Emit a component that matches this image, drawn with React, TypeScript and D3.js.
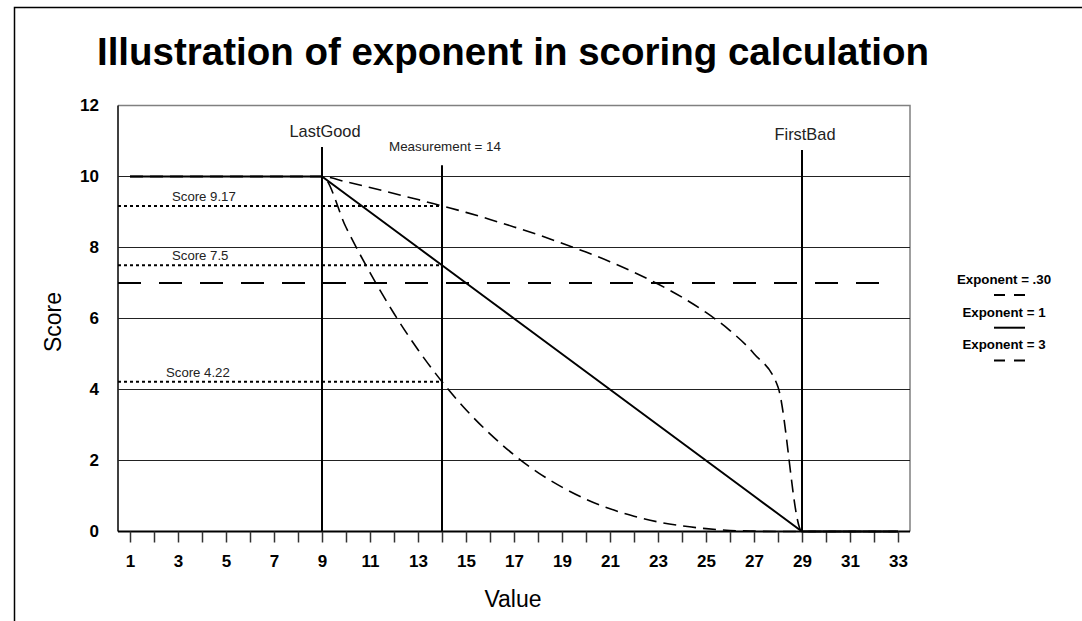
import React, { useEffect, useRef } from "react";
import * as d3 from "d3";

const WIDTH = 1082;
const HEIGHT = 621;
const FONT = "Arial, 'Liberation Sans', Helvetica, sans-serif";

// x categories (Value)
const values = [1, 2, 3, 4, 5, 6, 7, 8, 9, 10, 11, 12, 13, 14, 15, 16, 17, 18, 19, 20, 21, 22, 23, 24, 25, 26, 27, 28, 29, 30, 31, 32, 33];

// scores per value
const scoreExp030 = [10, 10, 10, 10, 10, 10, 10, 10, 10, 9.85, 9.69, 9.52, 9.35, 9.17, 8.99, 8.79, 8.58, 8.36, 8.12, 7.87, 7.6, 7.3, 6.97, 6.6, 6.17, 5.66, 5.01, 4.07, 0, 0, 0, 0, 0];
const scoreExp1 = [10, 10, 10, 10, 10, 10, 10, 10, 10, 9.5, 9, 8.5, 8, 7.5, 7, 6.5, 6, 5.5, 5, 4.5, 4, 3.5, 3, 2.5, 2, 1.5, 1, 0.5, 0, 0, 0, 0, 0];
const scoreExp3 = [10, 10, 10, 10, 10, 10, 10, 10, 10, 8.57, 7.29, 6.14, 5.12, 4.22, 3.43, 2.75, 2.16, 1.66, 1.25, 0.91, 0.64, 0.43, 0.27, 0.16, 0.08, 0.03, 0.01, 0, 0, 0, 0, 0, 0];

const yTicks = [0, 2, 4, 6, 8, 10, 12];
const gridLevels = [2, 4, 6, 8, 10];

// vertical markers
const markerLabels = ["LastGood", "Measurement = 14", "FirstBad"];
const markerValues = [9, 14, 29];
const markerTops = [10.83, 10.32, 10.75];

// measurement result lines
const measurement = 14;
const scoreLevels = [9.17, 7.5, 4.22];
const scoreLabels = ["Score 9.17", "Score 7.5", "Score 4.22"];

const thresholdScore = 7;

const legendLabels = ["Exponent = .30", "Exponent = 1", "Exponent = 3"];

export default function App() {
  const ref = useRef<HTMLDivElement>(null);

  useEffect(() => {
    const root = d3.select(ref.current);
    root.selectAll("*").remove();

    const svg = root
      .append("svg")
      .attr("width", WIDTH)
      .attr("height", HEIGHT)
      .style("position", "absolute")
      .style("left", 0)
      .style("top", 0)
      .style("background", "#fff")
      .style("font-family", FONT);

    const x = d3.scaleLinear().domain([0.5, 33.5]).range([118, 910]);
    const y = d3.scaleLinear().domain([0, 12]).range([531.5, 105.5]);

    // outer frame
    svg.append("path")
      .attr("d", `M14.5,${HEIGHT + 2}V7.5H${WIDTH + 2}`)
      .attr("fill", "none")
      .attr("stroke", "#000")
      .attr("stroke-width", 1.5);

    // title
    svg.append("text")
      .attr("x", 513)
      .attr("y", 65)
      .attr("text-anchor", "middle")
      .attr("font-size", 38.5)
      .attr("font-weight", "bold")
      .text("Illustration of exponent in scoring calculation");

    // plot box: top & right grey, left black
    svg.append("path")
      .attr("d", `M${x(0.5)},${y(12)}H${x(33.5)}V${y(0)}`)
      .attr("fill", "none")
      .attr("stroke", "#808080")
      .attr("stroke-width", 1.5);
    svg.append("line")
      .attr("x1", x(0.5)).attr("x2", x(0.5))
      .attr("y1", y(12)).attr("y2", y(0))
      .attr("stroke", "#000")
      .attr("stroke-width", 1.5);

    // horizontal gridlines
    svg.append("g")
      .selectAll("line")
      .data(gridLevels)
      .join("line")
      .attr("x1", x(0.5))
      .attr("x2", x(33.5))
      .attr("y1", (d) => y(d))
      .attr("y2", (d) => y(d))
      .attr("stroke", "#222")
      .attr("stroke-width", 1);

    // y axis labels
    const yAxis = svg.append("g")
      .attr("transform", `translate(${x(0.5)},0)`)
      .call(d3.axisLeft(y).tickValues(yTicks).tickSize(0).tickPadding(19).tickFormat(d3.format("d")));
    yAxis.select(".domain").remove();
    yAxis.selectAll("text")
      .attr("font-size", 17)
      .attr("font-weight", "bold")
      .attr("font-family", FONT)
      .attr("fill", "#000");

    // x axis
    const xAxis = svg.append("g")
      .attr("transform", `translate(0,${y(0)})`)
      .call(
        d3.axisBottom(x)
          .tickValues(values)
          .tickSize(11)
          .tickPadding(12)
          .tickFormat((d) => (+d % 2 === 1 ? String(d) : ""))
      );
    xAxis.select(".domain")
      .attr("d", `M${x(0.5)},0H${x(33.5)}`)
      .attr("stroke", "#000")
      .attr("stroke-width", 2);
    xAxis.selectAll(".tick line").attr("stroke", "#333").attr("stroke-width", 1.5);
    xAxis.selectAll("text")
      .attr("font-size", 17)
      .attr("font-weight", "bold")
      .attr("font-family", FONT)
      .attr("fill", "#000");

    // axis titles
    svg.append("text")
      .attr("x", 513)
      .attr("y", 607)
      .attr("text-anchor", "middle")
      .attr("font-size", 23)
      .text("Value");
    svg.append("text")
      .attr("transform", `translate(61,322) rotate(-90)`)
      .attr("text-anchor", "middle")
      .attr("font-size", 23)
      .text("Score");

    // threshold dashed line at 7
    svg.append("line")
      .attr("x1", x(0.5))
      .attr("x2", x(32.67))
      .attr("y1", y(thresholdScore))
      .attr("y2", y(thresholdScore))
      .attr("stroke", "#000")
      .attr("stroke-width", 2)
      .attr("stroke-dasharray", "23,18");

    // dotted score lines up to the measurement
    svg.append("g")
      .selectAll("line")
      .data(scoreLevels)
      .join("line")
      .attr("x1", x(0.5))
      .attr("x2", x(measurement))
      .attr("y1", (d) => y(d))
      .attr("y2", (d) => y(d))
      .attr("stroke", "#000")
      .attr("stroke-width", 2)
      .attr("stroke-dasharray", "3,3");

    svg.append("g")
      .selectAll("text")
      .data(scoreLevels)
      .join("text")
      .attr("x", (d, i) => x(i === 2 ? 2.5 : 2.75))
      .attr("y", (d) => y(d) - 5)
      .attr("font-size", 13.2)
      .attr("fill", "#222")
      .text((d, i) => scoreLabels[i]);

    // vertical markers
    const markers = markerValues.map((v, i) => ({ v, top: markerTops[i], label: markerLabels[i] }));
    svg.append("g")
      .selectAll("line")
      .data(markers)
      .join("line")
      .attr("x1", (d) => x(d.v))
      .attr("x2", (d) => x(d.v))
      .attr("y1", (d) => y(d.top))
      .attr("y2", y(0))
      .attr("stroke", "#000")
      .attr("stroke-width", 2);
    svg.append("g")
      .selectAll("text")
      .data(markers)
      .join("text")
      .attr("x", (d) => x(d.v) + 3)
      .attr("y", (d, i) => y(d.top) - (i === 1 ? 14 : 10))
      .attr("text-anchor", "middle")
      .attr("font-size", (d, i) => (i === 1 ? 13.4 : 16.4))
      .attr("fill", "#222")
      .text((d) => d.label);

    // score curves
    const series = [
      { data: scoreExp030, dash: "13,7", curve: d3.curveMonotoneX, width: 1.6 },
      { data: scoreExp1, dash: null, curve: d3.curveLinear, width: 2 },
      { data: scoreExp3, dash: "13,7", curve: d3.curveMonotoneX, width: 1.6 },
    ];
    series.forEach((s) => {
      const line = d3.line<number>()
        .x((d, i) => x(values[i]))
        .y((d) => y(d))
        .curve(s.curve);
      svg.append("path")
        .attr("d", line(s.data))
        .attr("fill", "none")
        .attr("stroke", "#000")
        .attr("stroke-width", s.width)
        .attr("stroke-dasharray", s.dash);
    });

    // legend
    const legend = svg.append("g").attr("transform", "translate(1004,0)");
    legendLabels.forEach((label, i) => {
      const base = 284 + i * 32.7;
      legend.append("text")
        .attr("x", 0)
        .attr("y", base)
        .attr("text-anchor", "middle")
        .attr("font-size", 13.3)
        .attr("font-weight", "bold")
        .text(label);
      legend.append("line")
        .attr("x1", -10)
        .attr("x2", 21)
        .attr("y1", base + 11)
        .attr("y2", base + 11)
        .attr("stroke", "#000")
        .attr("stroke-width", 2)
        .attr("stroke-dasharray", i === 1 ? null : "11,9");
    });
  }, []);

  return <div ref={ref}></div>;
}
